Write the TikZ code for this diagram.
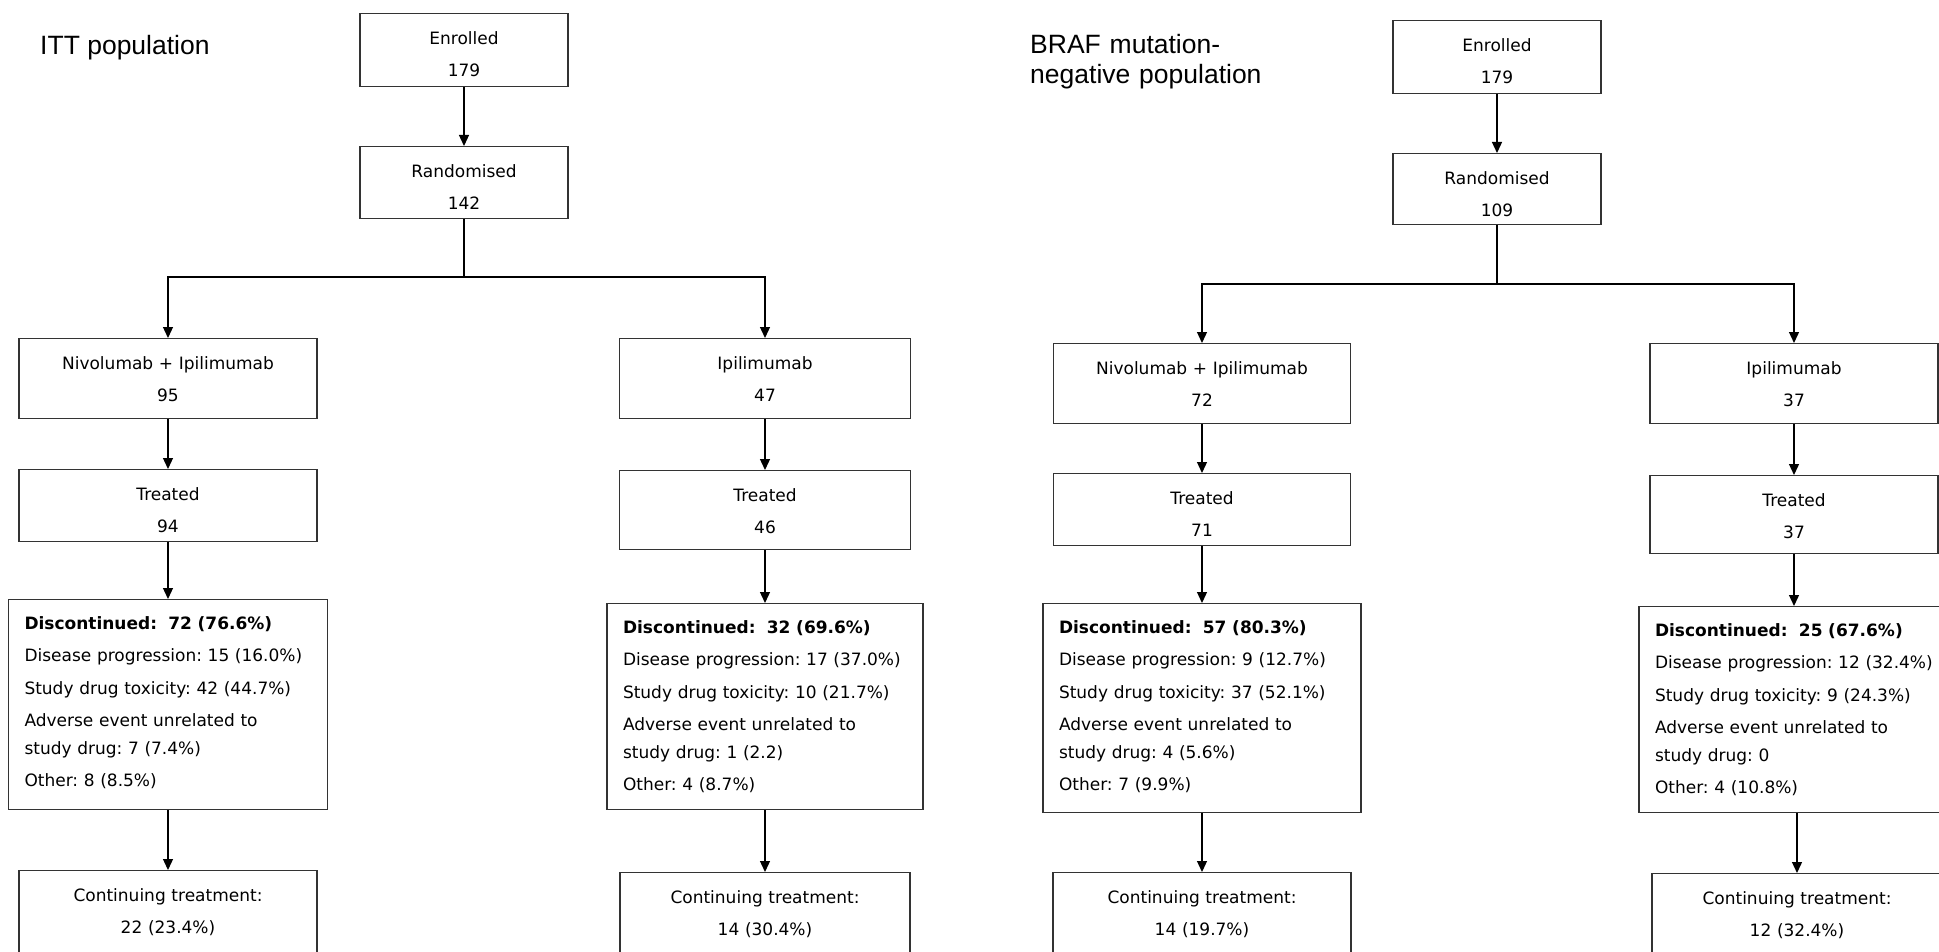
\documentclass[tikz,border=0pt]{standalone}
\usepackage{fontspec}
\setmainfont{DejaVu Sans}
\newfontfamily\headfont{Liberation Sans}
\usepackage{tikz}
\usetikzlibrary{arrows.meta, positioning}
\usepackage{xcolor}
\frenchspacing

\definecolor{boxgray}{RGB}{51,51,51}

\tikzset{
  box/.style={draw=boxgray, line width=1.3pt, anchor=north, inner xsep=0pt, inner ysep=0pt,
    align=center, text height=31pt, font=\fontsize{17pt}{32pt}\selectfont},
  listbox/.style={draw=boxgray, line width=1.3pt, anchor=north, inner xsep=16pt, inner ysep=0pt,
    align=left, text height=30pt, font=\fontsize{17pt}{28pt}\selectfont},
  arr/.style={-{Triangle[length=11pt,width=10pt]}, line width=1.3pt},
  head/.style={anchor=base west, inner sep=0pt, font=\headfont\fontsize{26.5pt}{30pt}\selectfont}
}

\begin{document}
\begin{tikzpicture}[x=1pt, y=-1pt]

\useasboundingbox (0,0) rectangle (1939,952);

% ITT population
\node[head] (ittlabel) at (40,55) {ITT population};

\node[box, text width=208pt, text depth=42pt] (enrL) at (464,13) {Enrolled\\179};
\node[box, text width=208pt, text depth=41pt] (randL) at (464,146) {Randomised\\142};
\coordinate (splitL) at (464,277);

\node[box, text width=298pt, text depth=49pt] (nivoL) at (168,338) {Nivolumab + Ipilimumab\\95};
\node[box, text width=291pt, text depth=49pt] (ipiL) at (765,338) {Ipilimumab\\47};
\node[box, text width=298pt, text depth=41pt] (treatLa) at (168,469) {Treated\\94};
\node[box, text width=291pt, text depth=48pt] (treatLb) at (765,470) {Treated\\46};

\node[listbox, text width=287pt, text depth=180pt] (discLa) at (168,599) {%
\textbf{Discontinued:~ 72 (76.6\%)}\\[4.3pt]
Disease progression: 15 (16.0\%)\\[4.3pt]
Study drug toxicity: 42 (44.7\%)\\[4.3pt]
Adverse event unrelated to\\
study drug: 7 (7.4\%)\\[4.3pt]
Other: 8 (8.5\%)};
\node[listbox, text width=284pt, text depth=176pt] (discLb) at (765,603) {%
\textbf{Discontinued:~ 32 (69.6\%)}\\[4.3pt]
Disease progression: 17 (37.0\%)\\[4.3pt]
Study drug toxicity: 10 (21.7\%)\\[4.3pt]
Adverse event unrelated to\\
study drug: 1 (2.2)\\[4.3pt]
Other: 4 (8.7\%)};

\node[box, text width=298pt, text depth=69pt] (contLa) at (168,870) {Continuing treatment:\\22 (23.4\%)};
\node[box, text width=290pt, text depth=69pt] (contLb) at (765,872) {Continuing treatment:\\14 (30.4\%)};

\draw[arr] (enrL) -- (randL);
\draw[line width=1.3pt] (randL.south) -- (splitL);
\draw[arr] (splitL) -| (nivoL.north);
\draw[arr] (splitL) -| (ipiL.north);
\draw[arr] (nivoL) -- (treatLa);
\draw[arr] (ipiL) -- (treatLb);
\draw[arr] (treatLa) -- (discLa);
\draw[arr] (treatLb) -- (discLb);
\draw[arr] (discLa) -- (contLa);
\draw[arr] (discLb) -- (contLb);

% BRAF mutation-negative population
\node[head, align=left, text width=260pt] (braflabel) at (1030,54) {BRAF mutation-\\negative population};

\node[box, text width=208pt, text depth=42pt] (enrR) at (1497,20) {Enrolled\\179};
\node[box, text width=208pt, text depth=40pt] (randR) at (1497,153) {Randomised\\109};
\coordinate (splitR) at (1497,284);

\node[box, text width=297pt, text depth=49pt] (nivoR) at (1202,343) {Nivolumab + Ipilimumab\\72};
\node[box, text width=288pt, text depth=49pt] (ipiR) at (1794,343) {Ipilimumab\\37};
\node[box, text width=297pt, text depth=41pt] (treatRa) at (1202,473) {Treated\\71};
\node[box, text width=288pt, text depth=47pt] (treatRb) at (1794,475) {Treated\\37};

\node[listbox, text width=286pt, text depth=179pt] (discRa) at (1202,603) {%
\textbf{Discontinued:~ 57 (80.3\%)}\\[4.3pt]
Disease progression: 9 (12.7\%)\\[4.3pt]
Study drug toxicity: 37 (52.1\%)\\[4.3pt]
Adverse event unrelated to\\
study drug: 4 (5.6\%)\\[4.3pt]
Other: 7 (9.9\%)};
\node[listbox, text width=284pt, text depth=176pt] (discRb) at (1797,606) {%
\textbf{Discontinued:~ 25 (67.6\%)}\\[4.3pt]
Disease progression: 12 (32.4\%)\\[4.3pt]
Study drug toxicity: 9 (24.3\%)\\[4.3pt]
Adverse event unrelated to\\
study drug: 0\\[4.3pt]
Other: 4 (10.8\%)};

\node[box, text width=298pt, text depth=69pt] (contRa) at (1202,872) {Continuing treatment:\\14 (19.7\%)};
\node[box, text width=290pt, text depth=69pt] (contRb) at (1797,873) {Continuing treatment:\\12 (32.4\%)};

\draw[arr] (enrR) -- (randR);
\draw[line width=1.3pt] (randR.south) -- (splitR);
\draw[arr] (splitR) -| (nivoR.north);
\draw[arr] (splitR) -| (ipiR.north);
\draw[arr] (nivoR) -- (treatRa);
\draw[arr] (ipiR) -- (treatRb);
\draw[arr] (treatRa) -- (discRa);
\draw[arr] (treatRb.south) -- (treatRb.south |- discRb.north);
\draw[arr] (discRa) -- (contRa);
\draw[arr] (discRb) -- (contRb);

\end{tikzpicture}
\end{document}
